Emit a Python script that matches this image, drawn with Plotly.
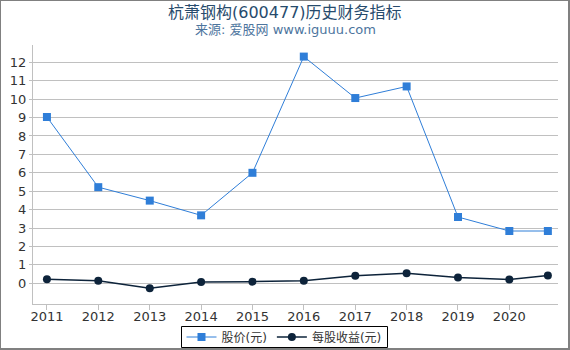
import plotly.graph_objects as go

# ---- data ----
dates = ["2011-01-01", "2012-01-01", "2013-01-01", "2014-01-01", "2015-01-01",
         "2016-01-01", "2017-01-01", "2018-01-01", "2019-01-01", "2020-01-01",
         "2020-10-01"]
price = [9.03, 5.22, 4.49, 3.69, 6.0, 12.31, 10.06, 10.69, 3.6, 2.84, 2.84]
eps = [0.22, 0.14, -0.27, 0.07, 0.09, 0.14, 0.41, 0.55, 0.31, 0.21, 0.43]
year_ticks = ["2011-01-01", "2012-01-01", "2013-01-01", "2014-01-01", "2015-01-01",
              "2016-01-01", "2017-01-01", "2018-01-01", "2019-01-01", "2020-01-01"]
year_labels = ["2011", "2012", "2013", "2014", "2015", "2016", "2017", "2018", "2019", "2020"]
y_ticks = list(range(0, 13))

title_text = "杭萧钢构(600477)历史财务指标"
subtitle_text = "来源: 爱股网 www.iguuu.com"
series_names = ["股价(元)", "每股收益(元)"]

W, H = 570, 350
L, R, T, B = 33, 12, 45, 46
pw, ph = W - L - R, H - T - B

def px_x(px):
    return (px - L) / pw

def px_y(py):
    return (H - B - py) / ph

FONT = "DejaVu Sans, Noto Sans CJK SC, sans-serif"

fig = go.Figure()
fig.add_trace(go.Scatter(
    x=dates, y=price, name=series_names[0], mode="lines+markers",
    line=dict(color="#2f7ed8", width=1),
    marker=dict(symbol="square", size=8, color="#2f7ed8"),
))
fig.add_trace(go.Scatter(
    x=dates, y=eps, name=series_names[1], mode="lines+markers",
    line=dict(color="#0d233a", width=1.5),
    marker=dict(symbol="circle", size=8, color="#0d233a"),
))

fig.update_layout(
    width=W, height=H,
    margin=dict(l=L, r=R, t=T, b=B, pad=0, autoexpand=False),
    paper_bgcolor="white", plot_bgcolor="white",
    font=dict(family=FONT, size=13, color="#333333"),
    showlegend=True,
    legend=dict(
        orientation="h", x=px_x(284), xanchor="center",
        y=px_y(337), yanchor="middle",
        bgcolor="rgba(0,0,0,0)", borderwidth=0,
        font=dict(size=12, color="#333333"),
        itemwidth=30, tracegroupgap=0,
    ),
    xaxis=dict(
        type="date",
        range=["2010-09-24", "2020-12-12"],
        tickvals=year_ticks, ticktext=year_labels,
        showgrid=False, zeroline=False,
        showline=True, linecolor="#c0c0c0", linewidth=1,
        ticks="outside", ticklen=5, tickcolor="#c0c0c0",
        ticklabelstandoff=-5,
        tickfont=dict(size=13, color="#333333"),
    ),
    yaxis=dict(
        range=[-1.124, 12.94],
        tickvals=y_ticks,
        showgrid=True, gridcolor="#c0c0c0", gridwidth=1,
        zeroline=False,
        showline=True, linecolor="#c0c0c0", linewidth=1,
        ticks="outside", ticklen=3, tickcolor="#c0c0c0",
        tickfont=dict(size=13, color="#333333"),
    ),
    annotations=[
        dict(text=title_text, xref="paper", yref="paper",
             x=px_x(285), y=px_y(12), xanchor="center", yanchor="middle",
             showarrow=False, font=dict(size=16, color="#274b6d", family=FONT)),
        dict(text=subtitle_text, xref="paper", yref="paper",
             x=px_x(285), y=px_y(30), xanchor="center", yanchor="middle",
             showarrow=False, font=dict(size=13, color="#4d759e", family=FONT)),
    ],
    shapes=[
        dict(type="rect", xref="paper", yref="paper",
             x0=px_x(0), x1=px_x(569), y0=px_y(349), y1=px_y(0),
             line=dict(color="#808080", width=2), fillcolor="rgba(0,0,0,0)"),
        dict(type="rect", xref="paper", yref="paper",
             x0=px_x(181.5), x1=px_x(387.5), y0=px_y(347.5), y1=px_y(326.5),
             line=dict(color="#000000", width=1), fillcolor="rgba(0,0,0,0)"),
    ],
)

fig.write_html("out.html")
